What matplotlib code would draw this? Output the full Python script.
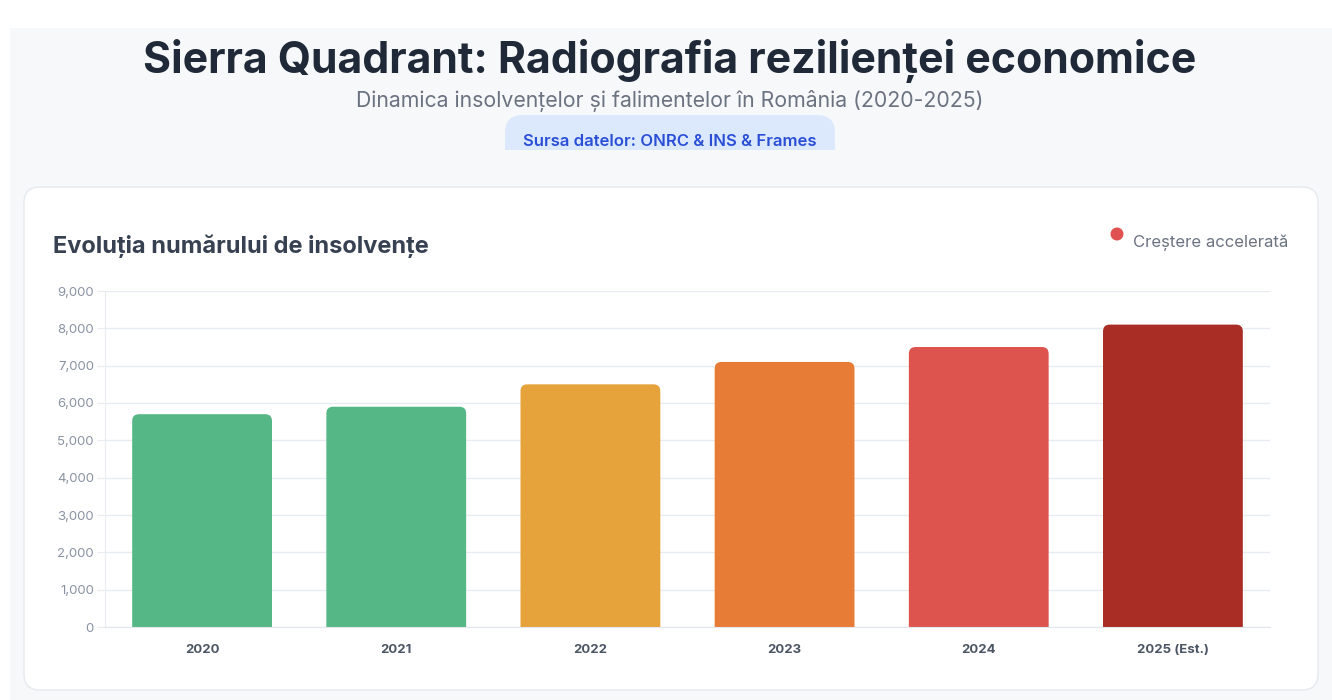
import matplotlib

matplotlib.use('Agg')

import matplotlib.pyplot as plt
from matplotlib.patches import FancyBboxPatch, Rectangle, Circle
from matplotlib.ticker import FuncFormatter, MultipleLocator

# data
years = ['2020', '2021', '2022', '2023', '2024', '2025 (Est.)']
insolvencies = [5700, 5900, 6500, 7100, 7500, 8100]
bar_colors = ['#55b786', '#55b786', '#e6a23b', '#e77c36', '#dd544e', '#a92c25']

title = 'Sierra Quadrant: Radiografia rezilienței economice'
subtitle = 'Dinamica insolvențelor și falimentelor în România (2020-2025)'
source = 'Sursa datelor: ONRC & INS & Frames'
chart_title = 'Evoluția numărului de insolvențe'
legend_label = 'Creștere accelerată'

plt.rcParams['font.family'] = ['Inter', 'DejaVu Sans']

W, H = 1332, 700
fig = plt.figure(figsize=(W / 100, H / 100), dpi=100)
fig.patch.set_facecolor('white')

# background layer in pixel coordinates
bg = fig.add_axes([0, 0, 1, 1], zorder=0)
bg.set_xlim(0, W)
bg.set_ylim(H, 0)
bg.axis('off')

bg.add_patch(Rectangle((10, 28), W - 10, H - 28, facecolor='#f7f8fa', edgecolor='none'))

# title block
bg.text(670, 61, title, ha='center', va='center', fontsize=30.8, fontweight='bold', color='#1f2937')
bg.text(670, 101, subtitle, ha='center', va='center', fontsize=15.3, color='#6b7280')

pill = FancyBboxPatch((505, 115), 330, 60, boxstyle='round,pad=0,rounding_size=18',
                      facecolor='#dce8fc', edgecolor='none')
bg.add_patch(pill)
bg.add_patch(Rectangle((495, 150), 350, 30, facecolor='#f7f8fa', edgecolor='none'))
bg.text(670, 141, source, ha='center', va='center', fontsize=12, fontweight='semibold', color='#2a4fd7')

# card
card = FancyBboxPatch((24, 187), 1294, 503, boxstyle='round,pad=0,rounding_size=16',
                      facecolor='white', edgecolor='#e6e9ee', linewidth=1)
bg.add_patch(card)

bg.text(53, 246, chart_title, ha='left', va='center', fontsize=17, fontweight='bold', color='#374151')
bg.add_patch(Circle((1117, 234), 6.5, facecolor='#e05252', edgecolor='none'))
bg.text(1133, 243, legend_label, ha='left', va='center', fontsize=12, color='#6b7280')

# chart axes
ax = fig.add_axes([105 / W, 1 - 627 / H, (1270 - 105) / W, (627 - 291) / H], zorder=1)
ax.set_facecolor('none')

x = list(range(len(years)))
bars = ax.bar(x, insolvencies, width=0.72, color=bar_colors, zorder=2)

ax.set_xlim(-0.5, len(years) - 0.5)
ax.set_ylim(0, 9000)

# swap the plain bars for bars with rounded tops
px_per_x = (1270 - 105) / len(years)
px_per_y = (627 - 291) / 9000
for b in bars:
    b.set_visible(False)
    rounded = FancyBboxPatch((b.get_x(), -600), b.get_width(), b.get_height() + 600,
                             boxstyle='round,pad=0,rounding_size=0.035',
                             mutation_aspect=px_per_x / px_per_y,
                             facecolor=b.get_facecolor(), edgecolor='none', zorder=2)
    ax.add_patch(rounded)

ax.yaxis.set_major_locator(MultipleLocator(1000))
ax.yaxis.set_major_formatter(FuncFormatter(lambda v, p: f'{int(v):,}'))
ax.grid(axis='y', color='#e8ebf0', linewidth=1, zorder=0)
ax.set_axisbelow(True)

ax.set_xticks(x)
ax.set_xticklabels(years, fontsize=9.5, fontweight='bold', color='#4b5563')
ax.tick_params(axis='x', length=0, pad=12)
ax.tick_params(axis='y', length=6, color='#e8ebf0', pad=2, labelsize=9.5, labelcolor='#8a93a3')

for side in ['top', 'right']:
    ax.spines[side].set_visible(False)
ax.spines['left'].set_color('#e8ebf0')
ax.spines['bottom'].set_color('#e3e6eb')

plt.savefig('out.png', dpi=100, facecolor=fig.get_facecolor())
